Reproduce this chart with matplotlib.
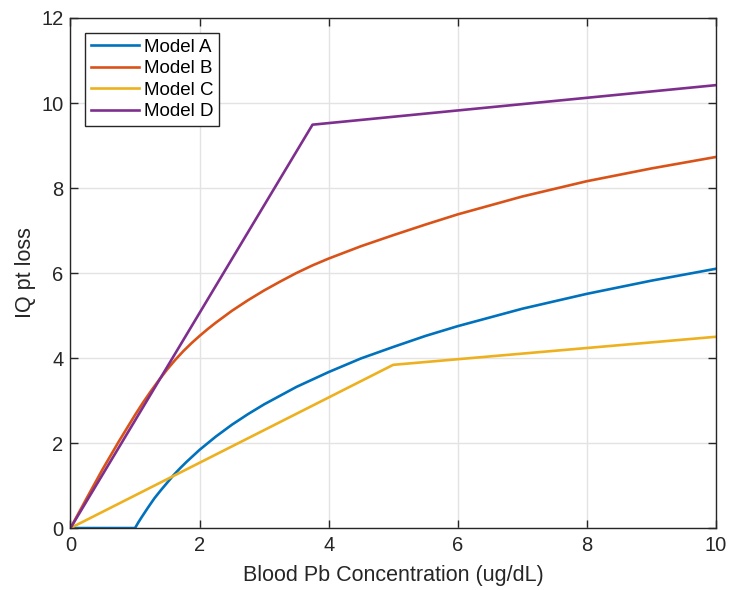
import matplotlib.pyplot as plt

# values
conc_a = [0, 1.0, 1.05, 1.1, 1.2, 1.3, 1.4, 1.5, 1.6, 1.7, 1.8, 1.9, 2.0, 2.25, 2.5, 2.75, 3.0, 3.5, 4.0, 4.5, 5.0, 5.5, 6.0, 7.0, 8.0, 9.0, 10.0]
loss_a = [0, 0, 0.13, 0.25, 0.48, 0.70, 0.89, 1.07, 1.25, 1.41, 1.56, 1.70, 1.84, 2.15, 2.43, 2.68, 2.91, 3.32, 3.67, 3.99, 4.26, 4.52, 4.75, 5.16, 5.51, 5.82, 6.10]

conc_b = [0, 0.25, 0.5, 0.75, 1.0, 1.125, 1.25, 1.375, 1.5, 1.625, 1.75, 1.875, 2.0, 2.125, 2.25, 2.375, 2.5,
          2.75, 3.0, 3.25, 3.5, 3.75, 4.0, 4.5, 5.0, 5.5, 6.0, 7.0, 8.0, 9.0, 10.0]
loss_b = [0, 0.70, 1.39, 2.04, 2.66, 2.955, 3.23, 3.49, 3.735, 3.96, 4.165, 4.35, 4.52, 4.68, 4.83, 4.97, 5.11,
          5.36, 5.59, 5.80, 6.00, 6.18, 6.34, 6.63, 6.89, 7.14, 7.38, 7.80, 8.16, 8.46, 8.73]

conc_c = [0, 5.0, 10.0]
loss_c = [0, 3.84, 4.50]

conc_d = [0, 3.75, 10.0]
loss_d = [0, 9.49, 10.42]

labels = ['Model A', 'Model B', 'Model C', 'Model D']
colors = ['#0072BD', '#D95319', '#EDB120', '#7E2F8E']

plt.rcParams['font.family'] = ['Liberation Sans', 'DejaVu Sans']

fig = plt.figure(figsize=(7.29, 5.90), dpi=100)
ax = fig.add_axes([0.0967, 0.105, 0.8853, 0.8645])

series = [(conc_a, loss_a), (conc_b, loss_b), (conc_c, loss_c), (conc_d, loss_d)]
for (xs, ys), lab, col in zip(series, labels, colors):
    ax.plot(xs, ys, color=col, linewidth=1.9, label=lab, solid_joinstyle='round')

ax.set_xlim(0, 10)
ax.set_ylim(0, 12)
ax.set_xticks(range(0, 11, 2))
ax.set_yticks(range(0, 13, 2))

ax.grid(True, color='#e3e3e3', linewidth=1.0)
ax.set_axisbelow(True)

for sp in ax.spines.values():
    sp.set_color('#262626')
    sp.set_linewidth(1.0)

ax.tick_params(direction='in', length=6, width=1.0, color='#262626',
               top=True, right=True, labelsize=14.5, labelcolor='#262626')
ax.tick_params(axis='x', pad=6)
ax.tick_params(axis='y', pad=5)

ax.set_xlabel('Blood Pb Concentration (ug/dL)', fontsize=15.5, color='#262626', labelpad=7)
ax.set_ylabel('IQ pt loss', fontsize=15.5, color='#262626', labelpad=4)

leg = ax.legend(loc='upper left', bbox_to_anchor=(0.0225, 0.971), borderaxespad=0,
                fontsize=13.5, handlelength=2.6, handletextpad=0.25, labelspacing=0.24,
                borderpad=0.3, fancybox=False, framealpha=1)
leg.get_frame().set_edgecolor('#262626')
leg.get_frame().set_linewidth(1.0)

fig.savefig('out.png', dpi=100)
